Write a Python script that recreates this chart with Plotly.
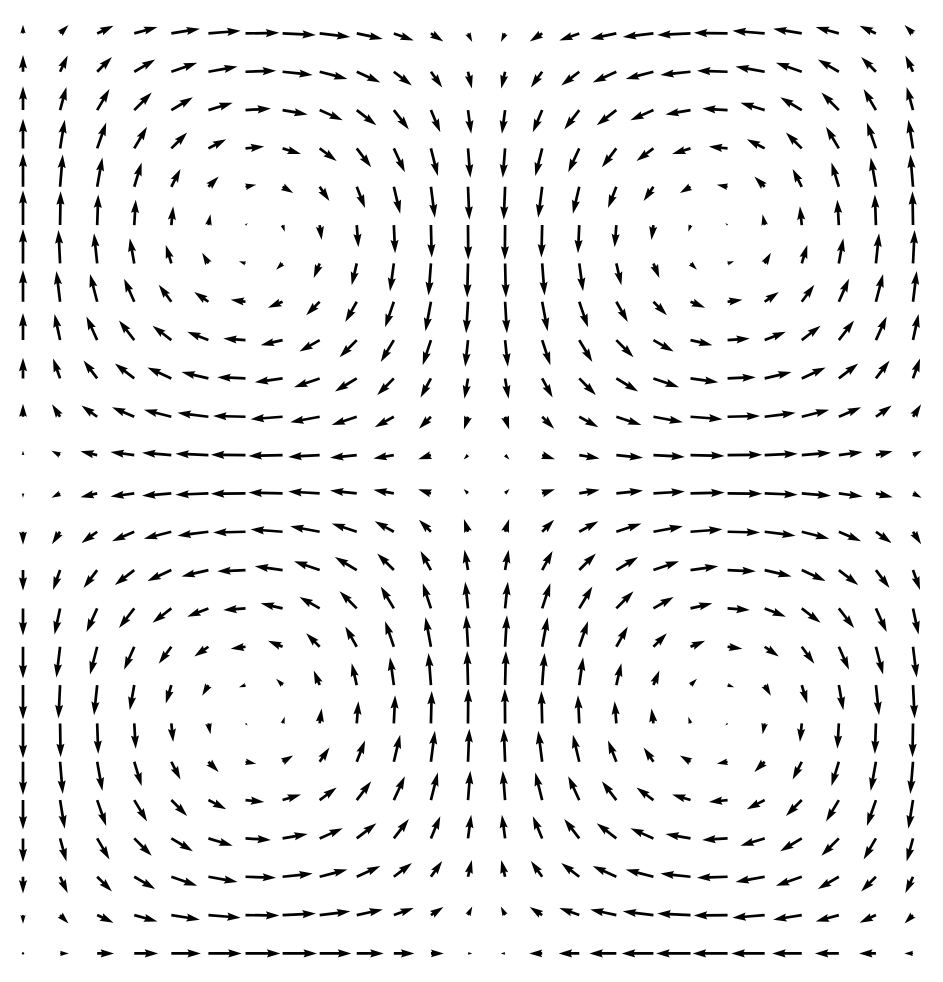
import math
import plotly.graph_objects as go

# Grid positions (same for x and y): 25 points, 0 .. ~6.03
grid_vals = [0.0, 0.2513, 0.5027, 0.7540, 1.0053, 1.2566, 1.5080, 1.7593, 2.0106,
             2.2619, 2.5133, 2.7646, 3.0159, 3.2673, 3.5186, 3.7699, 4.0212, 4.2726,
             4.5239, 4.7752, 5.0265, 5.2779, 5.5292, 5.7805, 6.0319]

# Field profiles along each grid line (u = sx * cy, v = -cx * sy)
sin_vals = [0.0, 0.2487, 0.4818, 0.6845, 0.8443, 0.9511, 0.9980, 0.9823, 0.9048,
            0.7705, 0.5878, 0.3681, 0.1253, -0.1253, -0.3681, -0.5878, -0.7705,
            -0.9048, -0.9823, -0.9980, -0.9511, -0.8443, -0.6845, -0.4818, -0.2487]
cos_vals = [1.0, 0.9686, 0.8763, 0.7290, 0.5358, 0.3090, 0.0628, -0.1874, -0.4258,
            -0.6374, -0.8090, -0.9298, -0.9921, -0.9921, -0.9298, -0.8090, -0.6374,
            -0.4258, -0.1874, 0.0628, 0.3090, 0.5358, 0.7290, 0.8763, 0.9686]

W, H = 943, 982
x_range = [-0.1559, 6.2351]
y_range = [-0.1875, 6.2510]
px_x = W / (x_range[1] - x_range[0])
px_y = H / (y_range[1] - y_range[0])

len_scale = 35.0      # pixels per unit of vector magnitude
shaft = 2.7           # shaft width in pixels
head_w, head_l, head_ax = 3.0, 5.0, 4.5
minsh = 1.0 * head_l

xs, ys = [], []
for j, yv in enumerate(grid_vals):
    for i, xv in enumerate(grid_vals):
        u = sin_vals[i] * cos_vals[j]
        v = -cos_vals[i] * sin_vals[j]
        L = math.hypot(u, v) * len_scale / shaft
        if L < 1.0:
            pts = [(0.5 * math.cos(k * math.pi / 3), 0.5 * math.sin(k * math.pi / 3)) for k in range(7)]
        elif L < minsh:
            s = L / minsh
            base = [(0, 0.5), (minsh - head_ax, 0.5), (minsh - head_l, 0.5 * head_w), (minsh, 0),
                    (minsh - head_l, -0.5 * head_w), (minsh - head_ax, -0.5), (0, -0.5), (0, 0.5)]
            pts = [(px * s, py * s) for px, py in base]
        else:
            pts = [(0, 0.5), (L - head_ax, 0.5), (L - head_l, 0.5 * head_w), (L, 0),
                   (L - head_l, -0.5 * head_w), (L - head_ax, -0.5), (0, -0.5), (0, 0.5)]
        ang = math.atan2(v, u)
        ca, sa = math.cos(ang), math.sin(ang)
        for px, py in pts:
            rx = (px * ca - py * sa) * shaft
            ry = (px * sa + py * ca) * shaft
            xs.append(xv + rx / px_x)
            ys.append(yv + ry / px_y)
        xs.append(None)
        ys.append(None)

fig = go.Figure(go.Scatter(
    x=xs, y=ys, mode='lines', fill='toself', fillcolor='black',
    line=dict(width=0, color='black'), hoverinfo='skip', showlegend=False,
))

fig.update_layout(
    width=W, height=H, margin=dict(l=0, r=0, t=0, b=0),
    paper_bgcolor='white', plot_bgcolor='white',
    xaxis=dict(visible=False, range=x_range, fixedrange=True),
    yaxis=dict(visible=False, range=y_range, fixedrange=True),
)

fig.write_html("out.html", config={'displayModeBar': False},
               post_script="document.body.style.margin='0';document.body.style.overflow='hidden';")
